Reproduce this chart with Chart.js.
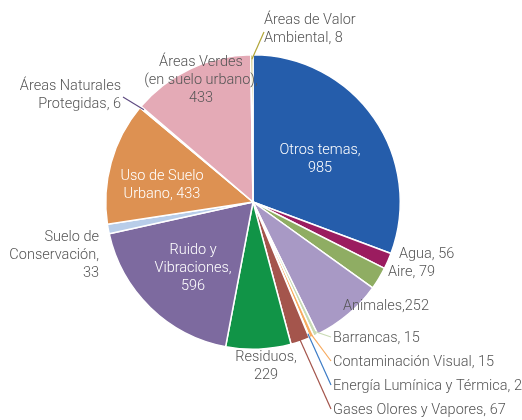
<!DOCTYPE html>
<html>
<head>
<meta charset="utf-8">
<script src="https://cdn.jsdelivr.net/npm/chart.js@4"></script>
<style>
  html, body { margin: 0; padding: 0; background: #fff; }
  #wrap { width: 522px; height: 420px; }
</style>
</head>
<body>
<div id="wrap"><canvas id="temasChart" width="522" height="420"></canvas></div>
<script>
// Temas (clockwise from 12 o'clock)
const categories = [
    'Otros temas', 'Agua', 'Aire', 'Animales', 'Barrancas',
    'Contaminación Visual', 'Energía Lumínica y Térmica', 'Gases Olores y Vapores',
    'Residuos', 'Ruido y Vibraciones', 'Suelo de Conservación', 'Uso de Suelo Urbano',
    'Áreas Naturales Protegidas', 'Áreas Verdes (en suelo urbano)', 'Áreas de Valor Ambiental'
];
const values = [985, 56, 79, 252, 15, 15, 2, 67, 229, 596, 33, 433, 6, 433, 8];
const sliceColors = [
    '#255dab', '#9b1c5f', '#8fad63', '#a899c5', '#c9dbb5',
    '#f7ab60', '#3d7cc6', '#a4554c', '#119447', '#7d6a9f',
    '#b8cde9', '#dd9152', '#5f4c82', '#e4aab6', '#b1a538'
];

// label text per slice; {v} is replaced with the slice value
const labelLines = [
    ['Otros temas,', '{v}'],
    ['Agua, {v}'],
    ['Aire, {v}'],
    ['Animales,{v}'],
    ['Barrancas, {v}'],
    ['Contaminación Visual, {v}'],
    ['Energía Lumínica y Térmica, {v}'],
    ['Gases Olores y Vapores, {v}'],
    ['Residuos,', '{v}'],
    ['Ruido y', 'Vibraciones,', '{v}'],
    ['Suelo de', 'Conservación,', '{v}'],
    ['Uso de Suelo', 'Urbano, {v}'],
    ['Áreas Naturales', 'Protegidas, {v}'],
    ['Áreas Verdes', '(en suelo urbano),', '{v}'],
    ['Áreas de Valor', 'Ambiental, {v}']
];

// where each label sits, plus optional leader line
const labelLayout = [
    { x: 320, y: 150, align: 'center', color: '#fff' },
    { x: 399, y: 254, align: 'left' },
    { x: 388, y: 272, align: 'left' },
    { x: 343, y: 306, align: 'left' },
    { x: 333, y: 338, align: 'left', leader: [331, 337] },
    { x: 333, y: 362, align: 'left', leader: [331, 361] },
    { x: 333, y: 386, align: 'left', leader: [331, 385] },
    { x: 333, y: 410, align: 'left', leader: [331, 409] },
    { x: 266, y: 357, align: 'center' },
    { x: 193, y: 250, align: 'center', color: '#fff' },
    { x: 99, y: 237, align: 'right' },
    { x: 162, y: 176, align: 'center', color: '#fff' },
    { x: 121, y: 86, align: 'right', leader: [123, 97] },
    { x: 201, y: 62, align: 'center' },
    { x: 264, y: 20, align: 'left', leader: [264, 32] }
];

const LINE_H = 18;
const TEXT_GRAY = '#555555';

const sliceLabels = {
    id: 'sliceLabels',
    afterDatasetsDraw(chart) {
        const ctx = chart.ctx;
        const arcs = chart.getDatasetMeta(0).data;
        ctx.save();

        // leader lines first, from the slice edge out to the label
        labelLayout.forEach((lab, i) => {
            if (!lab.leader) return;
            const arc = arcs[i];
            const p = arc.getProps(['x', 'y', 'startAngle', 'endAngle', 'outerRadius'], true);
            const mid = (p.startAngle + p.endAngle) / 2;
            const r = p.outerRadius * 0.97;
            ctx.beginPath();
            ctx.moveTo(p.x + Math.cos(mid) * r, p.y + Math.sin(mid) * r);
            ctx.lineTo(lab.leader[0], lab.leader[1]);
            ctx.strokeStyle = sliceColors[i];
            ctx.lineWidth = 1.2;
            ctx.stroke();
        });

        ctx.font = '300 14.5px Roboto';
        ctx.textBaseline = 'middle';
        labelLayout.forEach((lab, i) => {
            ctx.fillStyle = lab.color || TEXT_GRAY;
            ctx.textAlign = lab.align;
            labelLines[i].forEach((line, k) => {
                ctx.fillText(line.replace('{v}', values[i]), lab.x, lab.y + k * LINE_H);
            });
        });
        ctx.restore();
    }
};

const ctx = document.getElementById('temasChart').getContext('2d');
const temasChart = new Chart(ctx, {
    type: 'pie',
    data: {
        labels: categories,
        datasets: [{
            data: values,
            backgroundColor: sliceColors,
            borderColor: '#ffffff',
            borderWidth: 1.5
        }]
    },
    options: {
        responsive: false,
        animation: false,
        layout: {
            padding: { left: 105, right: 121, top: 54, bottom: 70 }
        },
        plugins: {
            legend: { display: false },
            tooltip: { enabled: false }
        }
    },
    plugins: [sliceLabels]
});
</script>
</body>
</html>
